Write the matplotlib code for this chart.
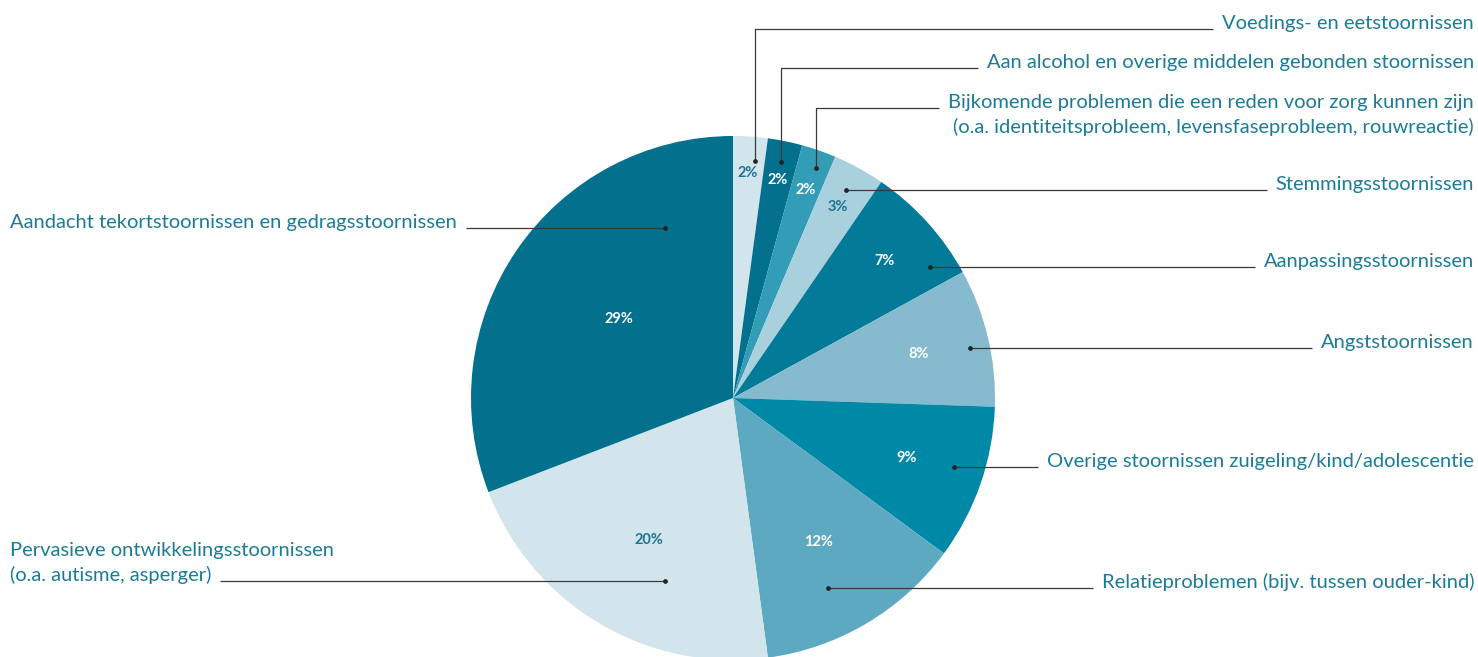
import numpy as np
import matplotlib
matplotlib.use("Agg")
import matplotlib.pyplot as plt

# data, clockwise from 12 o'clock
CATEGORIES = [
    "Voedings- en eetstoornissen",
    "Aan alcohol en overige middelen gebonden stoornissen",
    "Bijkomende problemen die een reden voor zorg kunnen zijn\n(o.a. identiteitsprobleem, levensfaseprobleem, rouwreactie)",
    "Stemmingsstoornissen",
    "Aanpassingsstoornissen",
    "Angststoornissen",
    "Overige stoornissen zuigeling/kind/adolescentie",
    "Relatieproblemen (bijv. tussen ouder-kind)",
    "Pervasieve ontwikkelingsstoornissen\n(o.a. autisme, asperger)",
    "Aandacht tekortstoornissen en gedragsstoornissen",
]
PERCENTAGES = [2, 2, 2, 3, 7, 8, 9, 12, 20, 29]

# styling / layout
W, H = 1478, 657
CX, CY, R = 733, 398, 262
SLICE_COLORS = ["#D2E5EC", "#03708E", "#339CB6", "#A9D0DD", "#037A97",
                "#86BACE", "#0089A7", "#5EA9C2", "#D2E5EC", "#03708E"]
LIGHT = {0, 3, 8}
TEXT_COLOR = "#1B7B98"
PCT_DARK = "#1E7592"
LINE_COLOR = "#3a3a3a"
FONT = "Lato"

# radial fraction for the percentage labels
PCT_RADIUS = [0.86, 0.85, 0.84, 0.83, 0.78, 0.73, 0.70, 0.64, 0.63, 0.53]
# leader dot: visual angle (deg, clockwise from top), radial fraction
DOTS = [(5.3, 0.91), (11.5, 0.92), (19.8, 0.935), (28.5, 0.905), (56.4, 0.905),
        (78.1, 0.925), (107.3, 0.885), (153.4, 0.81), (200.4, 0.745), (338.3, 0.70)]
# side, elbow line y (None = straight from dot)
LEADERS = [("right", 29), ("right", 68), ("right", 108), ("right", None), ("right", None),
           ("right", None), ("right", None), ("right", None), ("left", None), ("left", None)]
RIGHT_X = 1474
LEFT_X = 10
LINE_GAP = 25
TEXT_PAD = 9


def polar(angle_deg, frac):
    th = np.deg2rad(270 + angle_deg)
    return CX + R * frac * np.cos(th), CY + R * frac * np.sin(th)


fig = plt.figure(figsize=(W / 100, H / 100), dpi=100)
ax = fig.add_axes([0, 0, 1, 1])

# y axis is inverted, so counterclock in data space is clockwise on screen
wedges, _ = ax.pie(
    PERCENTAGES,
    colors=SLICE_COLORS,
    startangle=270,
    counterclock=True,
    center=(CX, CY),
    radius=R,
    wedgeprops=dict(linewidth=0),
    frame=True,
)
ax.set_xlim(0, W)
ax.set_ylim(H, 0)
ax.set_aspect("equal")
ax.axis("off")

for i, (w, pct) in enumerate(zip(wedges, PERCENTAGES)):
    mid = np.deg2rad((w.theta1 + w.theta2) / 2)
    x = CX + R * PCT_RADIUS[i] * np.cos(mid)
    y = CY + R * PCT_RADIUS[i] * np.sin(mid)
    ax.text(x, y, f"{pct}%", ha="center", va="center", fontsize=10.5,
            fontweight="bold", family=FONT,
            color=PCT_DARK if i in LIGHT else "white")

# labels
label_texts = []
for i, name in enumerate(CATEGORIES):
    side, elbow_y = LEADERS[i]
    dx, dy = polar(*DOTS[i])
    line_y = elbow_y if elbow_y is not None else dy
    lines = name.split("\n")
    ha = "right" if side == "right" else "left"
    tx = RIGHT_X if side == "right" else LEFT_X
    if side == "right":
        base = line_y  # first line sits on the leader
    else:
        base = line_y - LINE_GAP * (len(lines) - 1)  # last line sits on the leader
    objs = []
    for k, ln in enumerate(lines):
        t = ax.text(tx, base + k * LINE_GAP, ln, ha=ha, va="baseline",
                    fontsize=14.5, family=FONT, color=TEXT_COLOR)
        objs.append(t)
    anchor = objs[0] if side == "right" else objs[-1]
    label_texts.append((anchor, dx, dy, line_y, side, elbow_y))

fig.canvas.draw()
renderer = fig.canvas.get_renderer()
inv = ax.transData.inverted()

for anchor, dx, dy, line_y, side, elbow_y in label_texts:
    bb = anchor.get_window_extent(renderer)
    (x0, _), (x1, _) = inv.transform([[bb.x0, bb.y0], [bb.x1, bb.y1]])
    if side == "right":
        end_x = min(x0, x1) - TEXT_PAD
    else:
        end_x = max(x0, x1) + TEXT_PAD
    if elbow_y is not None:
        xs, ys = [dx, dx, end_x], [dy, line_y, line_y]
    else:
        xs, ys = [dx, end_x], [dy, dy]
    ax.plot(xs, ys, color=LINE_COLOR, linewidth=0.9, solid_capstyle="butt")
    ax.plot([dx], [dy], "o", color="#222222", markersize=2.4)

fig.savefig("out.png", dpi=100)
